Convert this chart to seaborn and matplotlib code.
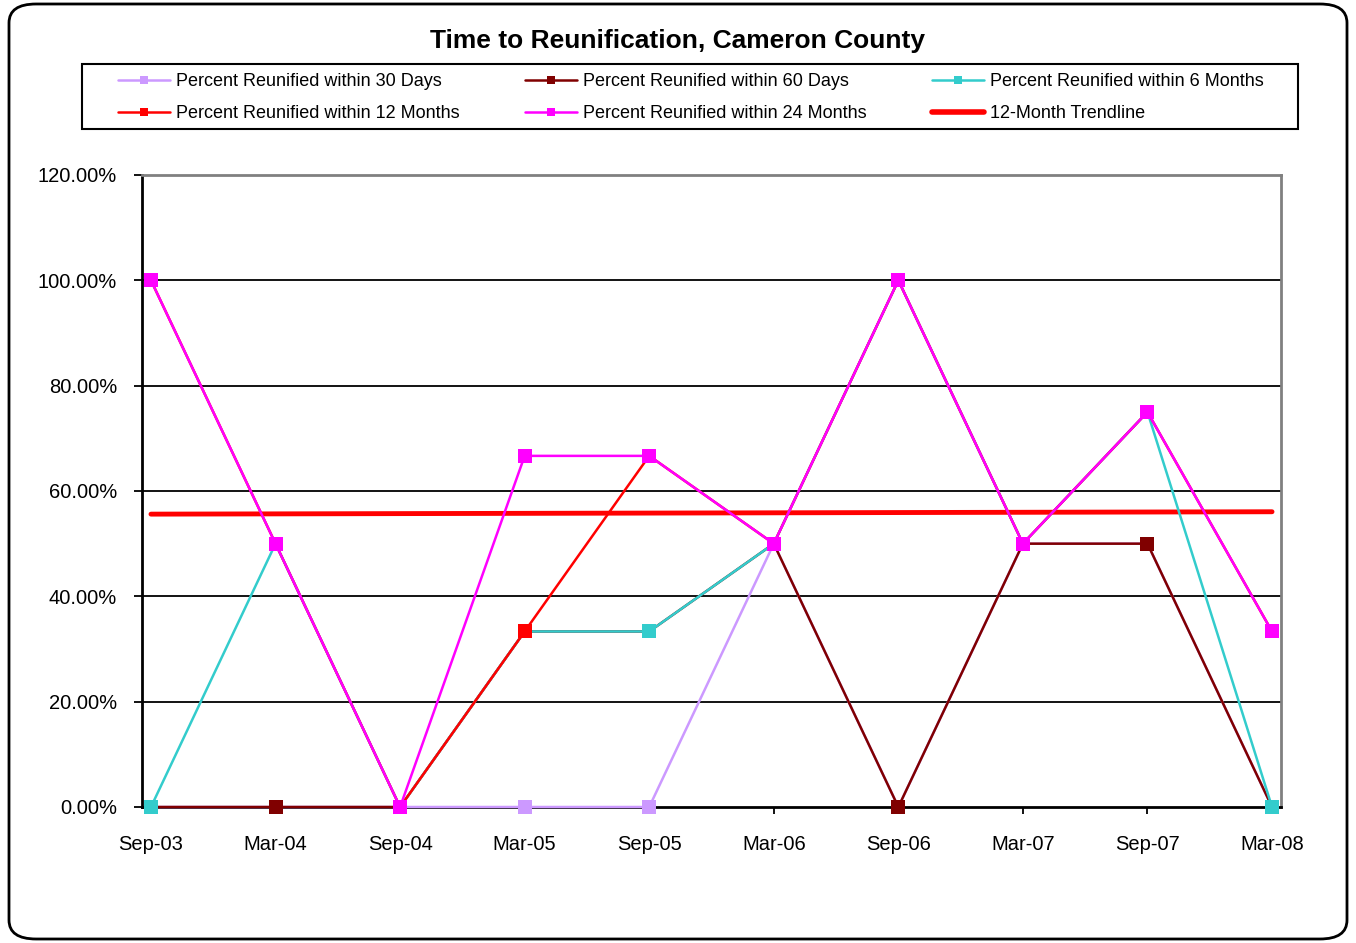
import numpy as np
import pandas as pd
import matplotlib
matplotlib.use("Agg")
import matplotlib.pyplot as plt
from matplotlib.patches import FancyBboxPatch, Rectangle
from matplotlib.lines import Line2D
import seaborn as sns

categories = ["Sep-03", "Mar-04", "Sep-04", "Mar-05", "Sep-05",
              "Mar-06", "Sep-06", "Mar-07", "Sep-07", "Mar-08"]
days30 = [0, 0, 0, 0, 0, 50, 0, 50, 50, 0]
days60 = [0, 0, 0, 33.33, 33.33, 50, 0, 50, 50, 0]
months6 = [0, 50, 0, 33.33, 33.33, 50, 100, 50, 75, 0]
months12 = [100, 50, 0, 33.33, 66.67, 50, 100, 50, 75, 33.33]
months24 = [100, 50, 0, 66.67, 66.67, 50, 100, 50, 75, 33.33]
series_names = ["Percent Reunified within 30 Days",
                "Percent Reunified within 60 Days",
                "Percent Reunified within 6 Months",
                "Percent Reunified within 12 Months",
                "Percent Reunified within 24 Months"]
trend_name = "12-Month Trendline"
yticks = [0, 20, 40, 60, 80, 100, 120]

colors = ["#CC99FF", "#800000", "#33CCCC", "#FF0000", "#FF00FF"]

sns.set_theme(style="white")
plt.rcParams["font.family"] = ["Liberation Sans", "DejaVu Sans"]
plt.rcParams["text.color"] = "black"
plt.rcParams["xtick.color"] = "black"
plt.rcParams["ytick.color"] = "black"

fig = plt.figure(figsize=(13.56, 9.43), dpi=100)
W, H = 1356, 943
ax = fig.add_axes([142 / W, 1 - 807 / H, (1281 - 142) / W, (807 - 175) / H])

x = np.arange(len(categories))
values = [days30, days60, months6, months12, months24]
handles = []
for i, (name, vals, c) in enumerate(zip(series_names, values, colors)):
    df = pd.DataFrame({"x": x, "y": vals})
    sns.lineplot(data=df, x="x", y="y", ax=ax, color=c, linewidth=1.8,
                 marker="s", markersize=10, markeredgewidth=0,
                 zorder=3 + i, clip_on=False)
    handles.append(Line2D([], [], color=c, linewidth=1.8, marker="s",
                          markersize=6, markeredgewidth=0))

df12 = pd.DataFrame({"x": x, "y": months12})
sns.regplot(data=df12, x="x", y="y", ax=ax, scatter=False, ci=None,
            color="#FF0000", line_kws={"linewidth": 3.5, "zorder": 2.5})
trend_handle = Line2D([], [], color="#FF0000", linewidth=4)

ax.set_xlim(-0.072, 9.072)
ax.set_ylim(0, 120)
ax.set_yticks(yticks)
ax.set_yticklabels([f"{v:.2f}%" for v in yticks], fontsize=14.5)
ax.set_xticks(x)
ax.set_xticklabels(categories, fontsize=14.5)
ax.set_xlabel("")
ax.set_ylabel("")
for v in yticks[1:-1]:
    ax.axhline(v, color="black", linewidth=1.3, zorder=1)
ax.tick_params(axis="y", which="both", left=True, length=6, width=1.3,
               color="black", pad=12, labelcolor="black")
ax.tick_params(axis="x", which="both", bottom=True, length=5, width=1.3,
               color="black", pad=15, labelcolor="black")
ax.spines["left"].set_color("black")
ax.spines["left"].set_linewidth(2)
ax.spines["bottom"].set_color("black")
ax.spines["bottom"].set_linewidth(2)
ax.spines["top"].set_color("#808080")
ax.spines["top"].set_linewidth(2)
ax.spines["right"].set_color("#808080")
ax.spines["right"].set_linewidth(2)
if ax.get_legend():
    ax.get_legend().remove()

fig.text(0.5, 1 - 41 / H, "Time to Reunification, Cameron County",
         ha="center", va="center", fontsize=19, fontweight="bold",
         color="black")

leg_handles = [handles[0], handles[3], handles[1], handles[4], handles[2], trend_handle]
leg_labels = [series_names[0], series_names[3], series_names[1],
              series_names[4], series_names[2], trend_name]
leg = fig.legend(leg_handles, leg_labels, ncol=3,
                 loc="upper left",
                 bbox_to_anchor=(118 / W, 1 - 73 / H),
                 fontsize=13, frameon=False,
                 handlelength=2.9, handletextpad=0.33,
                 borderaxespad=0, labelspacing=0.85, borderpad=0,
                 columnspacing=3.6)
for t in leg.get_texts():
    t.set_color("black")

frame = Rectangle((82 / W, 1 - 129 / H), (1298 - 82) / W, 65 / H,
                  transform=fig.transFigure, fill=False,
                  edgecolor="black", linewidth=1.5)
fig.patches.append(frame)

border = FancyBboxPatch((9 / W, 4 / H), (1347 - 9) / W, (939 - 4) / H,
                        boxstyle="round,pad=0,rounding_size=0.02",
                        transform=fig.transFigure, fill=False,
                        edgecolor="black", linewidth=2)
fig.patches.append(border)

fig.savefig("out.png", dpi=100, facecolor="white")
